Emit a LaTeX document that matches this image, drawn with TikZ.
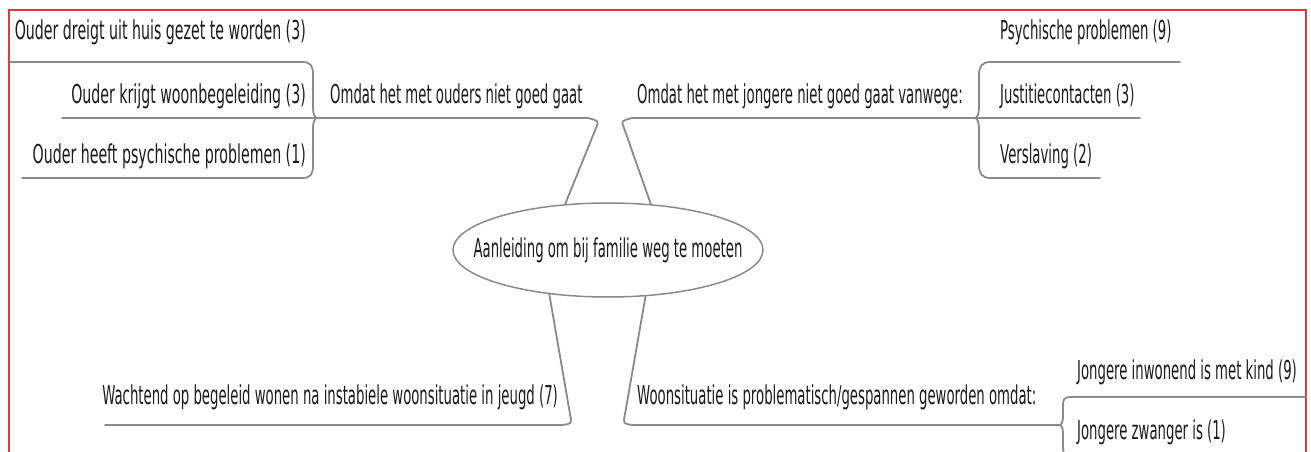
\documentclass[tikz,border=0pt]{standalone}
\usepackage{fontspec}
\setmainfont[FakeStretch=0.51]{DejaVu Sans}
\newfontfamily\widerfont[FakeStretch=0.545]{DejaVu Sans}
\usetikzlibrary{shapes.geometric}
\definecolor{linegray}{HTML}{8A8A8A}
\definecolor{txt}{HTML}{1A1A1A}
\definecolor{frame}{HTML}{E03A3A}
\begin{document}
\begin{tikzpicture}[x=1pt,y=-1pt,
  lbl/.style={inner sep=0pt, text=txt, font=\fontsize{26}{31}\selectfont},
  lblw/.style={lbl, font=\widerfont\fontsize{26}{31}\selectfont},
  conn/.style={draw=linegray, line width=1.8pt, line cap=round},
  hub/.style={ellipse, draw=linegray, line width=1.5pt, minimum width=310pt, minimum height=94pt, inner sep=0pt, text=txt, font=\fontsize{26}{31}\selectfont}]
\useasboundingbox (0,0) rectangle (1311,452);
\begin{scope}
\clip (0,0) rectangle (1311,452);
% frame
\draw[frame, line width=2pt] (9,460) -- (9,10) -- (1306,10) -- (1306,460);

% central node
\node[hub] (e) at (608,250) {\makebox[0pt]{Aanleiding om bij familie weg te moeten}};

% labels
\node[lblw, anchor=east] (l1) at (306,32) {Ouder dreigt uit huis gezet te worden (3)};
\node[lblw, anchor=east] (l2) at (306,96) {Ouder krijgt woonbegeleiding (3)};
\node[lblw, anchor=east] (l3) at (306,156) {Ouder heeft psychische problemen (1)};
\node[lbl, anchor=west] (pl) at (330,96) {Omdat het met ouders niet goed gaat};
\node[lbl, anchor=west] (pr) at (637,96) {Omdat het met jongere niet goed gaat vanwege:};
\node[lbl, anchor=west] (r1) at (1000,32) {Psychische problemen (9)};
\node[lbl, anchor=west] (r2) at (1000,96) {Justitiecontacten (3)};
\node[lbl, anchor=west] (r3) at (1000,156) {Verslaving (2)};
\node[lbl, anchor=east] (bl) at (558,397) {Wachtend op begeleid wonen na instabiele woonsituatie in jeugd (7)};
\node[lbl, anchor=west] (br) at (637,397) {Woonsituatie is problematisch/gespannen geworden omdat:};
\node[lbl, anchor=west] (b1) at (1077,372) {Jongere inwonend is met kind (9)};
\node[lbl, anchor=west] (b2) at (1077,432) {Jongere zwanger is (1)};

% junction points
\coordinate (jL) at (317,118);
\coordinate (jR) at (975,118);
\coordinate (jB) at (1060,425);

% main connectors from the hub
\draw[conn] (e.133) -- (596,128) .. controls (599,121) .. (588,118) -- (62,118);
\draw[conn] (e.47) -- (624,128) .. controls (621,121) .. (632,118) -- (1140,118);
\draw[conn] (e.217) -- (570,414) .. controls (572,424) .. (561,425) -- (105,425);
\draw[conn] (e.309) -- (625,414) .. controls (623,424) .. (634,425) -- (jB);

% left brace
\draw[conn] (10,62) -- (302,62) .. controls (311,62) and (313,66) .. (313,75) -- (313,108) .. controls (313,114) and (315,118) .. (jL);
\draw[conn] (22,178) -- (302,178) .. controls (311,178) and (313,174) .. (313,165) -- (313,128) .. controls (313,122) and (315,118) .. (jL);

% right brace
\draw[conn] (1180,62) -- (991,62) .. controls (982,62) and (979,66) .. (979,75) -- (979,108) .. controls (979,114) and (977,118) .. (jR);
\draw[conn] (1100,178) -- (991,178) .. controls (982,178) and (979,174) .. (979,165) -- (979,128) .. controls (979,122) and (977,118) .. (jR);

% bottom right brace
\draw[conn] (1306,397) -- (1070,397) .. controls (1064,397) and (1063,400) .. (1063,405) -- (1063,417) .. controls (1063,422) and (1061,425) .. (jB);
\draw[conn] (1240,457) -- (1070,457) .. controls (1064,457) and (1063,452) .. (1063,447) -- (1063,433) .. controls (1063,428) and (1061,425) .. (jB);
\end{scope}
\end{tikzpicture}
\end{document}
